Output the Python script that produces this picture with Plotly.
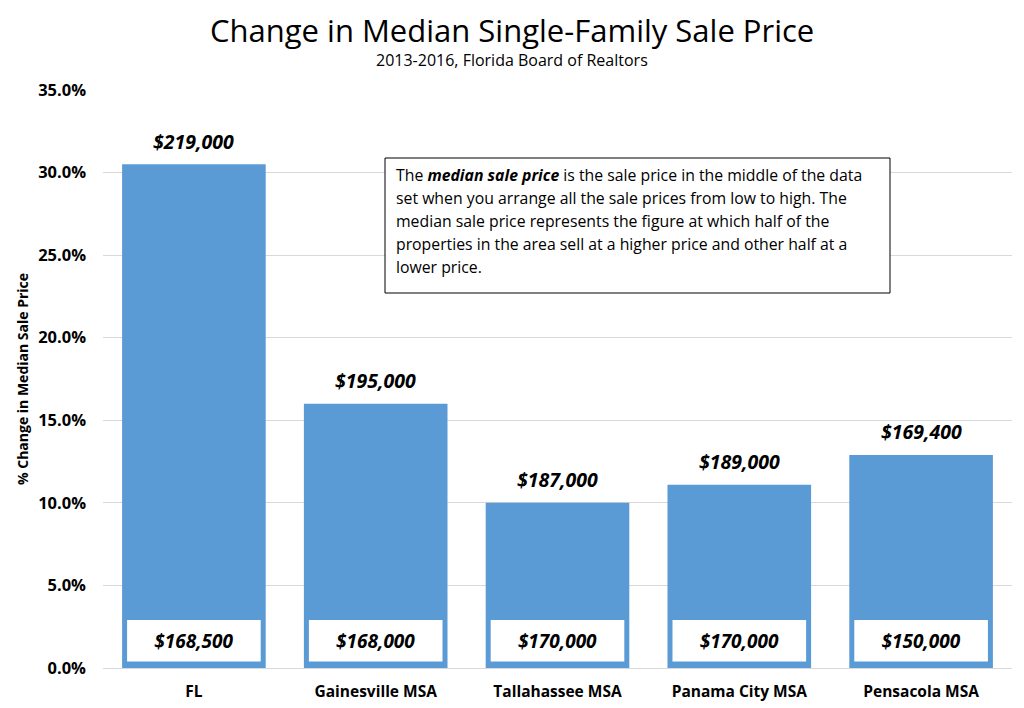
import plotly.graph_objects as go

categories = ["FL", "Gainesville MSA", "Tallahassee MSA", "Panama City MSA", "Pensacola MSA"]
pct_change = [30.5, 16.0, 10.0, 11.1, 12.9]
price_2016 = ["$219,000", "$195,000", "$187,000", "$189,000", "$169,400"]
price_2013 = ["$168,500", "$168,000", "$170,000", "$170,000", "$150,000"]
y_ticks = [0, 5, 10, 15, 20, 25, 30, 35]
y_tick_labels = ["0.0%", "5.0%", "10.0%", "15.0%", "20.0%", "25.0%", "30.0%", "35.0%"]

FONT = "Open Sans"
BLUE = "#5b9bd5"

# page-pixel geometry of the plot area (browser adds 8px body margin)
OFF = 8
PX0, PX1, PY0, PY1 = 103, 1012, 90, 668
PW, PH = PX1 - PX0, PY1 - PY0


def px(x):
    return (x - PX0) / PW


def py(y):
    return (PY1 - y) / PH


box_base = [0.4] * len(categories)
box_height = [2.5] * len(categories)

fig = go.Figure()
fig.add_trace(go.Bar(
    x=categories, y=pct_change, width=0.79,
    marker=dict(color=BLUE, line=dict(width=0)),
    hoverinfo="skip", showlegend=False,
))
fig.add_trace(go.Bar(
    x=categories, y=box_height, base=box_base, width=0.735,
    marker=dict(color="white", line=dict(width=0)),
    text=price_2013, texttemplate="<b><i>%{text}</i></b>",
    textposition="inside", insidetextanchor="middle",
    textangle=0, constraintext="none",
    textfont=dict(family=FONT, size=19, color="black"),
    hoverinfo="skip", showlegend=False,
))

note_lines = [
    "The <b><i>median sale price</i></b> is the sale price in the middle of the data",
    "set when you arrange all the sale prices from low to high. The",
    "median sale price represents the figure at which half of the",
    "properties in the area sell at a higher price and other half at a",
    "lower price.",
]

annotations = [
    dict(text="Change in Median Single-Family Sale Price", xref="paper", yref="paper",
         x=px(512), y=py(30), xanchor="center", yanchor="middle",
         showarrow=False, font=dict(family=FONT, size=31, color="black")),
    dict(text="2013-2016, Florida Board of Realtors", xref="paper", yref="paper",
         x=px(512), y=py(60), xanchor="center", yanchor="middle",
         showarrow=False, font=dict(family=FONT, size=16, color="black")),
]
for c, v, t in zip(categories, pct_change, price_2016):
    annotations.append(dict(
        text="<b><i>" + t + "</i></b>", x=c, y=v, xref="x", yref="y",
        xanchor="center", yanchor="middle", yshift=23, showarrow=False,
        font=dict(family=FONT, size=19.5, color="black"),
    ))
for i, line in enumerate(note_lines):
    annotations.append(dict(
        text=line, xref="paper", yref="paper",
        x=px(394), y=py(175 + 23 * i),
        xanchor="left", yanchor="middle", showarrow=False,
        font=dict(family=FONT, size=15.8, color="black"),
    ))

fig.update_layout(
    width=PX1 + 12 - OFF, height=708 - OFF,
    margin=dict(l=PX0 - OFF, r=12, t=PY0 - OFF, b=708 - PY1, autoexpand=False),
    paper_bgcolor="white", plot_bgcolor="white",
    barmode="overlay", bargap=0.2,
    font=dict(family=FONT, color="black"),
    annotations=annotations,
    shapes=[dict(type="rect", xref="paper", yref="paper",
                 x0=px(385), x1=px(890), y0=py(293), y1=py(158),
                 line=dict(color="black", width=1), fillcolor="white", layer="above")],
    xaxis=dict(showline=False, ticks="", ticklabelstandoff=12,
               tickfont=dict(family=FONT, size=15.5, color="black", weight="bold")),
    yaxis=dict(range=[0, 35], tickvals=y_ticks, ticktext=y_tick_labels,
               showgrid=True, gridcolor="#d9d9d9", gridwidth=1,
               zeroline=True, zerolinecolor="#d9d9d9", zerolinewidth=1,
               tickfont=dict(family=FONT, size=16.5, color="black", weight="bold"),
               ticklabelstandoff=16,
               title=dict(text="% Change in Median Sale Price", standoff=6,
                          font=dict(family=FONT, size=14, color="black", weight="bold"))),
)

fig.write_html("out.html")
